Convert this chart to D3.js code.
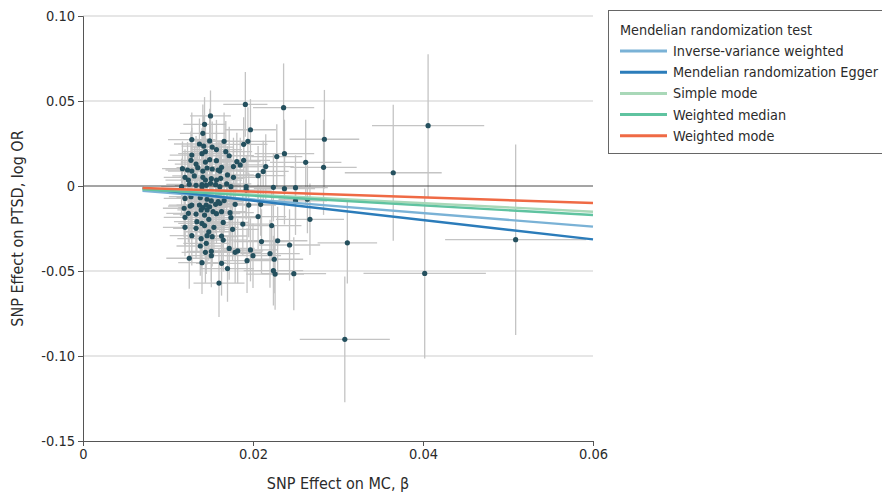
<!DOCTYPE html>
<html>
<head>
<meta charset="utf-8">
<script src="https://cdn.jsdelivr.net/npm/d3@7"></script>
<style>
body { margin: 0; background: #fff; }
svg { font-family: "DejaVu Sans Condensed", "Liberation Sans Narrow", sans-serif; }
</style>
</head>
<body>
<svg id="chart" width="882" height="496"></svg>
<script>
var xTicks = [0, 0.02, 0.04, 0.06]
var xTickLabels = ["0", "0.02", "0.04", "0.06"]
var yTicks = [0.10, 0.05, 0, -0.05, -0.10, -0.15]
var yTickLabels = ["0.10", "0.05", "0", "-0.05", "-0.10", "-0.15"]

var methods = ["Inverse-variance weighted", "Mendelian randomization Egger", "Simple mode", "Weighted median", "Weighted mode"]
var methodColors = ["#7ab2d6", "#2b7cba", "#a9d8b8", "#5fc3a0", "#ef6a45"]
var methodIntercepts = [0, 0.0028, 0, 0, 0]
var methodSlopes = [-0.398, -0.57, -0.252, -0.285, -0.167]
var lineStart = 0.007, lineEnd = 0.06

// [beta on MC, log OR on PTSD, half CI on MC, half CI on PTSD]
var snps = [
  [0.0191, 0.0480, 0.0026, 0.0190], [0.0236, 0.0461, 0.0036, 0.0260], [0.0150, 0.0412, 0.0024, 0.0150],
  [0.0143, 0.0363, 0.0025, 0.0160], [0.0197, 0.0331, 0.0030, 0.0180], [0.0141, 0.0310, 0.0027, 0.0170],
  [0.0128, 0.0273, 0.0028, 0.0160], [0.0149, 0.0265, 0.0024, 0.0190], [0.0137, 0.0247, 0.0030, 0.0150],
  [0.0142, 0.0235, 0.0026, 0.0180], [0.0166, 0.0263, 0.0029, 0.0170], [0.0194, 0.0263, 0.0032, 0.0200],
  [0.0189, 0.0245, 0.0028, 0.0160], [0.0152, 0.0229, 0.0025, 0.0150], [0.0157, 0.0214, 0.0030, 0.0175],
  [0.0144, 0.0202, 0.0027, 0.0165], [0.0168, 0.0202, 0.0031, 0.0180], [0.0128, 0.0182, 0.0026, 0.0160],
  [0.0172, 0.0178, 0.0029, 0.0170], [0.0140, 0.0190, 0.0028, 0.0150], [0.0237, 0.0190, 0.0035, 0.0200],
  [0.0228, 0.0173, 0.0030, 0.0190], [0.0262, 0.0139, 0.0042, 0.0250], [0.0117, 0.0102, 0.0024, 0.0160],
  [0.0127, 0.0151, 0.0027, 0.0170], [0.0133, 0.0129, 0.0025, 0.0165], [0.0144, 0.0141, 0.0029, 0.0180],
  [0.0149, 0.0155, 0.0026, 0.0160], [0.0157, 0.0149, 0.0030, 0.0175], [0.0181, 0.0143, 0.0028, 0.0170],
  [0.0189, 0.0151, 0.0031, 0.0185], [0.0185, 0.0124, 0.0027, 0.0160], [0.0177, 0.0114, 0.0029, 0.0170],
  [0.0215, 0.0114, 0.0033, 0.0190], [0.0212, 0.0086, 0.0030, 0.0180], [0.0206, 0.0061, 0.0032, 0.0175],
  [0.0123, 0.0094, 0.0026, 0.0165], [0.0128, 0.0088, 0.0028, 0.0150], [0.0135, 0.0108, 0.0025, 0.0170],
  [0.0141, 0.0088, 0.0027, 0.0160], [0.0146, 0.0106, 0.0029, 0.0175], [0.0152, 0.0100, 0.0026, 0.0165],
  [0.0159, 0.0094, 0.0030, 0.0170], [0.0163, 0.0110, 0.0028, 0.0160], [0.0161, 0.0088, 0.0027, 0.0180],
  [0.0170, 0.0065, 0.0031, 0.0170], [0.0120, 0.0051, 0.0025, 0.0165], [0.0124, 0.0035, 0.0027, 0.0160],
  [0.0131, 0.0059, 0.0026, 0.0175], [0.0141, 0.0051, 0.0028, 0.0170], [0.0144, 0.0035, 0.0029, 0.0165],
  [0.0151, 0.0043, 0.0026, 0.0180], [0.0157, 0.0035, 0.0030, 0.0160], [0.0162, 0.0045, 0.0028, 0.0175],
  [0.0177, 0.0051, 0.0031, 0.0170], [0.0125, 0.0010, 0.0027, 0.0160], [0.0133, 0.0004, 0.0025, 0.0170],
  [0.0140, 0.0008, 0.0029, 0.0165], [0.0145, 0.0004, 0.0026, 0.0180], [0.0150, 0.0016, 0.0028, 0.0170],
  [0.0156, 0.0008, 0.0030, 0.0160], [0.0161, -0.0004, 0.0027, 0.0175], [0.0169, 0.0012, 0.0029, 0.0170],
  [0.0116, -0.0004, 0.0024, 0.0165], [0.0140, -0.0004, 0.0028, 0.0180], [0.0174, -0.0004, 0.0030, 0.0170],
  [0.0192, -0.0004, 0.0032, 0.0185], [0.0224, -0.0008, 0.0034, 0.0200], [0.0237, -0.0016, 0.0036, 0.0210],
  [0.0250, -0.0010, 0.0038, 0.0190], [0.0192, -0.0024, 0.0030, 0.0175], [0.0127, -0.0063, 0.0026, 0.0170],
  [0.0120, -0.0073, 0.0025, 0.0165], [0.0138, -0.0069, 0.0028, 0.0180], [0.0146, -0.0078, 0.0027, 0.0170],
  [0.0151, -0.0088, 0.0029, 0.0175], [0.0159, -0.0092, 0.0030, 0.0165], [0.0166, -0.0086, 0.0028, 0.0180],
  [0.0126, -0.0118, 0.0026, 0.0170], [0.0137, -0.0112, 0.0027, 0.0165], [0.0141, -0.0127, 0.0029, 0.0175],
  [0.0145, -0.0112, 0.0026, 0.0160], [0.0149, -0.0122, 0.0028, 0.0180], [0.0156, -0.0108, 0.0030, 0.0170],
  [0.0161, -0.0102, 0.0027, 0.0165], [0.0179, -0.0108, 0.0031, 0.0180], [0.0195, -0.0112, 0.0032, 0.0190],
  [0.0209, -0.0108, 0.0033, 0.0185], [0.0250, -0.0088, 0.0037, 0.0200], [0.0119, -0.0131, 0.0025, 0.0170],
  [0.0128, -0.0112, 0.0027, 0.0160], [0.0139, -0.0141, 0.0028, 0.0175], [0.0146, -0.0141, 0.0026, 0.0170],
  [0.0153, -0.0151, 0.0029, 0.0180], [0.0163, -0.0151, 0.0030, 0.0165], [0.0173, -0.0157, 0.0028, 0.0175],
  [0.0124, -0.0161, 0.0026, 0.0170], [0.0133, -0.0165, 0.0027, 0.0180], [0.0143, -0.0171, 0.0029, 0.0165],
  [0.0157, -0.0163, 0.0028, 0.0175], [0.0174, -0.0186, 0.0030, 0.0180], [0.0206, -0.0180, 0.0033, 0.0190],
  [0.0267, -0.0196, 0.0040, 0.0210], [0.0120, -0.0184, 0.0025, 0.0170], [0.0134, -0.0210, 0.0027, 0.0180],
  [0.0140, -0.0220, 0.0028, 0.0175], [0.0148, -0.0196, 0.0029, 0.0170], [0.0165, -0.0214, 0.0030, 0.0180],
  [0.0188, -0.0224, 0.0031, 0.0185], [0.0222, -0.0233, 0.0035, 0.0195], [0.0120, -0.0243, 0.0026, 0.0170],
  [0.0133, -0.0249, 0.0027, 0.0175], [0.0143, -0.0233, 0.0028, 0.0180], [0.0154, -0.0243, 0.0029, 0.0170],
  [0.0128, -0.0292, 0.0026, 0.0175], [0.0139, -0.0310, 0.0028, 0.0180], [0.0146, -0.0292, 0.0027, 0.0170],
  [0.0152, -0.0298, 0.0029, 0.0175], [0.0163, -0.0294, 0.0030, 0.0180], [0.0165, -0.0318, 0.0028, 0.0185],
  [0.0148, -0.0269, 0.0027, 0.0170], [0.0176, -0.0255, 0.0031, 0.0180], [0.0210, -0.0327, 0.0033, 0.0190],
  [0.0229, -0.0322, 0.0035, 0.0200], [0.0243, -0.0347, 0.0036, 0.0210], [0.0138, -0.0353, 0.0028, 0.0175],
  [0.0145, -0.0337, 0.0027, 0.0180], [0.0172, -0.0367, 0.0030, 0.0185], [0.0144, -0.0390, 0.0028, 0.0180],
  [0.0151, -0.0384, 0.0029, 0.0175], [0.0151, -0.0410, 0.0027, 0.0185], [0.0179, -0.0390, 0.0031, 0.0180],
  [0.0182, -0.0382, 0.0030, 0.0190], [0.0197, -0.0376, 0.0032, 0.0185], [0.0200, -0.0410, 0.0033, 0.0190],
  [0.0220, -0.0398, 0.0035, 0.0200], [0.0125, -0.0425, 0.0027, 0.0180], [0.0140, -0.0451, 0.0028, 0.0185],
  [0.0163, -0.0455, 0.0030, 0.0190], [0.0170, -0.0486, 0.0031, 0.0195], [0.0193, -0.0439, 0.0032, 0.0190],
  [0.0225, -0.0431, 0.0034, 0.0200], [0.0224, -0.0498, 0.0035, 0.0205], [0.0226, -0.0518, 0.0034, 0.0210],
  [0.0248, -0.0516, 0.0038, 0.0215], [0.0160, -0.0571, 0.0030, 0.0200], [0.0284, 0.0275, 0.0041, 0.0290],
  [0.0283, 0.0110, 0.0039, 0.0280], [0.0264, -0.0078, 0.0034, 0.0200], [0.0311, -0.0334, 0.0035, 0.0240],
  [0.0308, -0.0902, 0.0053, 0.0370], [0.0406, 0.0355, 0.0066, 0.0420], [0.0365, 0.0078, 0.0057, 0.0400],
  [0.0509, -0.0316, 0.0083, 0.0560], [0.0402, -0.0514, 0.0072, 0.0500]
]

var svg = d3.select("#chart")

var x = d3.scaleLinear().domain([0, 0.06]).range([83, 593])
var y = d3.scaleLinear().domain([-0.15, 0.10]).range([441, 16])

// grid lines
svg.append("g")
    .selectAll("line")
    .data(yTicks.filter(function (d) { return d !== 0 && d !== -0.15 }))
    .enter()
    .append("line")
    .attr("x1", x(0)).attr("x2", x(0.06))
    .attr("y1", function (d) { return y(d) }).attr("y2", function (d) { return y(d) })
    .attr("stroke", "#dedede")
    .attr("stroke-width", 1.5)

// error bars
var bars = svg.append("g").attr("stroke", "#c4c4c4").attr("stroke-width", 1.3)
bars.selectAll("line.h")
    .data(snps)
    .enter()
    .append("line")
    .attr("class", "h")
    .attr("x1", function (d) { return x(d[0] - d[2]) })
    .attr("x2", function (d) { return x(d[0] + d[2]) })
    .attr("y1", function (d) { return y(d[1]) })
    .attr("y2", function (d) { return y(d[1]) })
bars.selectAll("line.v")
    .data(snps)
    .enter()
    .append("line")
    .attr("class", "v")
    .attr("x1", function (d) { return x(d[0]) })
    .attr("x2", function (d) { return x(d[0]) })
    .attr("y1", function (d) { return y(d[1] - d[3]) })
    .attr("y2", function (d) { return y(d[1] + d[3]) })

// zero line
svg.append("line")
    .attr("x1", x(0)).attr("x2", x(0.06))
    .attr("y1", y(0)).attr("y2", y(0))
    .attr("stroke", "#4a4a4a")
    .attr("stroke-width", 1)

// points
svg.append("g")
    .selectAll("circle")
    .data(snps)
    .enter()
    .append("circle")
    .attr("cx", function (d) { return x(d[0]) })
    .attr("cy", function (d) { return y(d[1]) })
    .attr("r", 2.6)
    .attr("fill", "#24505e")

// regression lines
svg.append("g")
    .selectAll("line")
    .data(methods)
    .enter()
    .append("line")
    .attr("x1", x(lineStart))
    .attr("x2", x(lineEnd))
    .attr("y1", function (d, i) { return y(methodIntercepts[i] + methodSlopes[i] * lineStart) })
    .attr("y2", function (d, i) { return y(methodIntercepts[i] + methodSlopes[i] * lineEnd) })
    .attr("stroke", function (d, i) { return methodColors[i] })
    .attr("stroke-width", 2.4)

// axes
var yAxis = d3.axisLeft(y)
    .tickValues(yTicks)
    .tickSize(5)
    .tickFormat(function (d, i) { return yTickLabels[i] })
var yg = svg.append("g").attr("transform", "translate(" + x(0) + ",0)").call(yAxis)

var xAxis = d3.axisBottom(x)
    .tickValues(xTicks)
    .tickSize(5)
    .tickFormat(function (d, i) { return xTickLabels[i] })
var xg = svg.append("g").attr("transform", "translate(0," + y(-0.15) + ")").call(xAxis)

;[xg, yg].forEach(function (g) {
    g.select(".domain").attr("stroke", "#555")
    g.selectAll(".tick line").attr("stroke", "#555")
    g.selectAll(".tick text")
        .attr("fill", "#2b2b2b")
        .style("font-size", "14.5px")
        .style("font-family", "DejaVu Sans Condensed, Liberation Sans Narrow, sans-serif")
})
yg.selectAll(".tick text").attr("x", -8)
xg.selectAll(".tick text").attr("y", 8)

svg.append("text")
    .attr("x", x(0.03))
    .attr("y", 489)
    .attr("text-anchor", "middle")
    .attr("font-size", 16)
    .attr("fill", "#2b2b2b")
    .text("SNP Effect on MC, β")

svg.append("text")
    .attr("transform", "translate(23," + y(-0.025) + ") rotate(-90)")
    .attr("text-anchor", "middle")
    .attr("font-size", 16)
    .attr("fill", "#2b2b2b")
    .text("SNP Effect on PTSD, log OR")

// legend
var legend = svg.append("g")
legend.append("rect")
    .attr("x", 608.5).attr("y", 10.5)
    .attr("width", 280).attr("height", 143)
    .attr("fill", "#fff")
    .attr("stroke", "#666")
    .attr("stroke-width", 1)
legend.append("text")
    .attr("x", 620).attr("y", 35)
    .attr("font-size", 14.3)
    .attr("fill", "#2b2b2b")
    .text("Mendelian randomization test")

var items = legend.selectAll("g.item")
    .data(methods)
    .enter()
    .append("g")
    .attr("class", "item")
    .attr("transform", function (d, i) { return "translate(0," + (51 + i * 21.2) + ")" })
items.append("line")
    .attr("x1", 620).attr("x2", 667)
    .attr("stroke", function (d, i) { return methodColors[i] })
    .attr("stroke-width", 3)
items.append("text")
    .attr("x", 673).attr("y", 5)
    .attr("font-size", 14.3)
    .attr("fill", "#2b2b2b")
    .text(function (d) { return d })
</script>
</body>
</html>
